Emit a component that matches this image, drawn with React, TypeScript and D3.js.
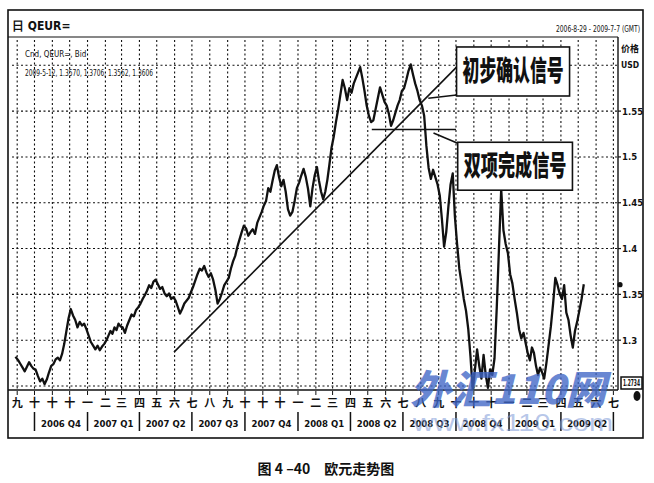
import { useEffect, useRef } from 'react'
import * as d3 from 'd3'

const monthLabels = ['九', '十', '十', '十', '一', '二', '三', '四', '五', '六', '七', '八', '九', '十', '十', '十', '一', '二', '三', '四', '五', '六', '七', '八', '九', '十', '十', '十', '一', '二', '三', '四', '五', '六', '七']
const quarterLabels = ['2006 Q4', '2007 Q1', '2007 Q2', '2007 Q3', '2007 Q4', '2008 Q1', '2008 Q2', '2008 Q3', '2008 Q4', '2009 Q1', '2009 Q2']
const priceTicks = [1.3, 1.35, 1.4, 1.45, 1.5, 1.55]
const gridPrices = [1.25, 1.3, 1.35, 1.4, 1.45, 1.5, 1.55, 1.6]

// first bar of the range
const firstDay = new Date(2006, 7, 29)
const firstClose = 1.282

// 8 closes per month, spread over the month
const closes2006 = [
  [1.278, 1.274, 1.270, 1.266, 1.271, 1.276, 1.272, 1.269], // Sep
  [1.268, 1.261, 1.255, 1.258, 1.252, 1.257, 1.265, 1.272],
  [1.274, 1.279, 1.281, 1.278, 1.285, 1.296, 1.310, 1.324],
  [1.334, 1.327, 1.322, 1.314, 1.320, 1.316, 1.318, 1.312],
]
const closes2007 = [
  [1.305, 1.298, 1.294, 1.290, 1.294, 1.289, 1.293, 1.296],
  [1.300, 1.305, 1.310, 1.307, 1.314, 1.311, 1.318, 1.315],
  [1.314, 1.308, 1.316, 1.322, 1.328, 1.326, 1.333, 1.336],
  [1.340, 1.345, 1.349, 1.354, 1.360, 1.357, 1.364, 1.366],
  [1.361, 1.356, 1.358, 1.351, 1.348, 1.351, 1.345, 1.347],
  [1.343, 1.336, 1.329, 1.334, 1.340, 1.343, 1.346, 1.352],
  [1.358, 1.365, 1.372, 1.378, 1.376, 1.381, 1.374, 1.369],
  [1.373, 1.366, 1.355, 1.340, 1.345, 1.352, 1.360, 1.364],
  [1.368, 1.378, 1.386, 1.392, 1.402, 1.410, 1.418, 1.425],
  [1.422, 1.414, 1.418, 1.421, 1.416, 1.428, 1.434, 1.440],
  [1.447, 1.452, 1.466, 1.462, 1.474, 1.485, 1.491, 1.478],
  [1.468, 1.475, 1.462, 1.443, 1.436, 1.440, 1.452, 1.466],
]
const closes2008 = [
  [1.472, 1.480, 1.487, 1.478, 1.465, 1.446, 1.466, 1.480],
  [1.489, 1.474, 1.462, 1.454, 1.462, 1.475, 1.492, 1.510],
  [1.522, 1.538, 1.552, 1.568, 1.584, 1.575, 1.562, 1.575],
  [1.570, 1.580, 1.586, 1.592, 1.598, 1.586, 1.572, 1.556],
  [1.545, 1.538, 1.540, 1.552, 1.564, 1.576, 1.568, 1.560],
  [1.556, 1.547, 1.534, 1.540, 1.548, 1.556, 1.562, 1.572],
  [1.575, 1.584, 1.594, 1.601, 1.590, 1.580, 1.572, 1.562],
  [1.556, 1.545, 1.512, 1.488, 1.476, 1.486, 1.478, 1.470],
  [1.458, 1.432, 1.402, 1.418, 1.446, 1.470, 1.482, 1.435],
  [1.405, 1.378, 1.362, 1.345, 1.332, 1.312, 1.282, 1.245],
  [1.268, 1.290, 1.272, 1.258, 1.284, 1.262, 1.248, 1.268],
  [1.262, 1.280, 1.335, 1.400, 1.465, 1.420, 1.405, 1.395],
]
const closes2009 = [
  [1.372, 1.362, 1.345, 1.330, 1.312, 1.302, 1.308, 1.296],
  [1.285, 1.278, 1.292, 1.286, 1.272, 1.262, 1.270, 1.265],
  [1.258, 1.275, 1.295, 1.315, 1.340, 1.368, 1.360, 1.350],
  [1.345, 1.360, 1.330, 1.322, 1.305, 1.292, 1.310, 1.320],
  [1.332, 1.345, 1.361],
]
const lastClose = 1.3606
const lowMark = '1.2734'

// annotations, in date / price space
const trendLine: [Date, number][] = [[new Date(2007, 4, 31), 1.287], [new Date(2008, 9, 2), 1.598]]
const neckline: [Date, number][] = [[new Date(2008, 4, 8), 1.53], [new Date(2008, 9, 1), 1.53]]
const box1 = { text: '初步确认信号', left: new Date(2008, 9, 2), right: new Date(2009, 3, 16), top: 1.62, bottom: 1.5665 }
const box2 = { text: '双项完成信号', left: new Date(2008, 9, 4), right: new Date(2009, 3, 21), top: 1.516, bottom: 1.4637 }
const pointer1: [Date, number] = [new Date(2008, 7, 14), 1.564]
const pointer2: [Date, number] = [new Date(2008, 7, 23), 1.526]

const narrow = "'Liberation Sans Narrow', 'DejaVu Sans Condensed', 'Liberation Sans', sans-serif"
const cjk = "'Noto Sans CJK SC', sans-serif"

export default function App() {
  const svgRef = useRef<SVGSVGElement>(null)

  useEffect(() => {
    if (!svgRef.current) return
    const svg = d3.select(svgRef.current)
    svg.selectAll('*').remove()

    const plot = { left: 12, right: 618, top: 37, bottom: 390 }
    const frame = { left: 8, right: 643, top: 10, bottom: 438 }

    const x = d3.scaleTime().domain([new Date(2006, 7, 23), new Date(2009, 6, 9)]).range([plot.left, plot.right])
    const y = d3.scaleLinear().domain([1.25, 1.6]).range([386, 65.3])

    const points: { date: Date; value: number }[] = [{ date: firstDay, value: firstClose }]
    const years: [number, number, number[][]][] = [[2006, 8, closes2006], [2007, 0, closes2007], [2008, 0, closes2008], [2009, 0, closes2009]]
    years.forEach(([year, m0, rows]) => {
      rows.forEach((row, i) => {
        const start = +new Date(year, m0 + i, 1)
        const end = +new Date(year, m0 + i + 1, 1)
        row.forEach((v, k) => points.push({ date: new Date(start + ((k + 0.5) / 8) * (end - start)), value: v }))
      })
    })

    svg.append('rect').attr('width', 654).attr('height', 483).attr('fill', '#fff')

    svg.append('defs').append('clipPath').attr('id', 'plotClip')
      .append('rect')
      .attr('x', plot.left).attr('y', plot.top)
      .attr('width', plot.right - plot.left).attr('height', plot.bottom - plot.top)

    const months = d3.timeMonth.range(new Date(2006, 8, 1), new Date(2009, 6, 2))

    // dotted grid
    const grid = svg.append('g').attr('stroke', '#111').attr('stroke-width', 1.1).attr('stroke-dasharray', '2,2.5')
    gridPrices.forEach((p) => {
      grid.append('line').attr('x1', plot.left).attr('x2', plot.right).attr('y1', y(p)).attr('y2', y(p))
    })
    months.forEach((m) => {
      grid.append('line').attr('x1', x(m)).attr('x2', x(m)).attr('y1', plot.top + 3).attr('y2', plot.bottom)
    })

    // price line
    const line = d3.line<{ date: Date; value: number }>().x((d) => x(d.date)).y((d) => y(d.value))
    svg.append('path')
      .datum(points)
      .attr('clip-path', 'url(#plotClip)')
      .attr('fill', 'none').attr('stroke', '#111').attr('stroke-width', 2.3).attr('stroke-linejoin', 'round')
      .attr('d', line)

    // trend line, neckline and pointers
    const ink = svg.append('g').attr('stroke', '#111').attr('stroke-width', 1.6).attr('fill', 'none')
    ink.append('line')
      .attr('x1', x(trendLine[0][0])).attr('y1', y(trendLine[0][1]))
      .attr('x2', x(trendLine[1][0])).attr('y2', y(trendLine[1][1]))
    ink.append('line')
      .attr('x1', x(neckline[0][0])).attr('y1', y(neckline[0][1]))
      .attr('x2', x(neckline[1][0])).attr('y2', y(neckline[1][1]))
    ink.append('line')
      .attr('x1', x(pointer1[0])).attr('y1', y(pointer1[1]))
      .attr('x2', x(box1.left)).attr('y2', y(box1.bottom) - 1)
    ink.append('line')
      .attr('x1', x(pointer2[0])).attr('y1', y(pointer2[1]))
      .attr('x2', x(box2.left)).attr('y2', y(box2.top) + 1)

    ;[box1, box2].forEach((b) => {
      const bx = x(b.left)
      const bw = x(b.right) - bx
      const by = y(b.top)
      const bh = y(b.bottom) - by
      svg.append('rect')
        .attr('x', bx).attr('y', by).attr('width', bw).attr('height', bh)
        .attr('fill', '#fff').attr('stroke', '#111').attr('stroke-width', 1.6)
      svg.append('text')
        .attr('x', bx + 6).attr('y', by + bh / 2 + 10)
        .attr('font-family', cjk).attr('font-weight', 900).attr('font-size', 28)
        .attr('textLength', bw - 12).attr('lengthAdjust', 'spacingAndGlyphs')
        .attr('fill', '#111')
        .text(b.text)
    })

    // frame
    const frameG = svg.append('g').attr('stroke', '#111').attr('fill', 'none')
    frameG.append('rect')
      .attr('x', frame.left).attr('y', frame.top)
      .attr('width', frame.right - frame.left).attr('height', frame.bottom - frame.top)
      .attr('stroke-width', 1.6)
    frameG.append('line').attr('x1', frame.left).attr('x2', plot.right).attr('y1', plot.top).attr('y2', plot.top).attr('stroke-width', 1.2)
    frameG.append('line').attr('x1', plot.right).attr('x2', plot.right).attr('y1', plot.top).attr('y2', plot.bottom).attr('stroke-width', 1.4)
    frameG.append('line').attr('x1', frame.left).attr('x2', plot.right).attr('y1', plot.bottom).attr('y2', plot.bottom).attr('stroke-width', 1.6)

    // header texts
    svg.append('text')
      .attr('x', 12).attr('y', 30)
      .attr('font-family', narrow).attr('font-weight', 700).attr('font-size', 12).attr('fill', '#111')
      .text('日 QEUR=')
    svg.append('text')
      .attr('x', 556).attr('y', 32)
      .attr('font-family', narrow).attr('font-size', 8.5).attr('fill', '#111')
      .attr('textLength', 84).attr('lengthAdjust', 'spacingAndGlyphs')
      .text('2006-8-29 - 2009-7-7 (GMT)')
    svg.append('text')
      .attr('x', 25).attr('y', 57)
      .attr('font-family', narrow).attr('font-size', 8).attr('fill', '#111')
      .text('Cnd, QEUR=, Bid')
    svg.append('text')
      .attr('x', 25).attr('y', 76)
      .attr('font-family', narrow).attr('font-size', 8).attr('fill', '#111')
      .attr('textLength', 128).attr('lengthAdjust', 'spacingAndGlyphs')
      .text('2009-5-12, 1.3570, 1.3706, 1.3562, 1.3606')

    // right axis
    svg.append('text')
      .attr('x', 621).attr('y', 52)
      .attr('font-family', cjk).attr('font-size', 9).attr('font-weight', 700).attr('fill', '#111')
      .text('价格')
    svg.append('text')
      .attr('x', 621).attr('y', 68)
      .attr('font-family', narrow).attr('font-size', 8.5).attr('font-weight', 700).attr('fill', '#111')
      .text('USD')
    priceTicks.forEach((p) => {
      svg.append('line')
        .attr('x1', plot.right).attr('x2', plot.right + 3).attr('y1', y(p)).attr('y2', y(p))
        .attr('stroke', '#111').attr('stroke-width', 1.2)
      svg.append('text')
        .attr('x', plot.right + 4).attr('y', y(p) + 3.5)
        .attr('font-family', narrow).attr('font-weight', 700).attr('font-size', 9.5).attr('fill', '#111')
        .text(String(p))
    })
    svg.append('circle')
      .attr('cx', plot.right + 2).attr('cy', y(lastClose)).attr('r', 2.6).attr('fill', '#111')
    svg.append('rect')
      .attr('x', plot.right + 3).attr('y', plot.bottom - 13).attr('width', 21).attr('height', 12)
      .attr('fill', '#fff').attr('stroke', '#111').attr('stroke-width', 1.5)
    svg.append('text')
      .attr('x', plot.right + 5).attr('y', plot.bottom - 4)
      .attr('font-family', narrow).attr('font-weight', 700).attr('font-size', 8.5).attr('fill', '#111')
      .attr('textLength', 17).attr('lengthAdjust', 'spacingAndGlyphs')
      .text(lowMark)
    svg.append('ellipse')
      .attr('cx', 637).attr('cy', 396).attr('rx', 3.5).attr('ry', 5).attr('fill', '#111')

    // bottom axis: months
    months.forEach((m, i) => {
      svg.append('line')
        .attr('x1', x(m)).attr('x2', x(m)).attr('y1', plot.bottom + 1).attr('y2', plot.bottom + 5)
        .attr('stroke', '#111').attr('stroke-width', 1)
      svg.append('text')
        .attr('x', x(m)).attr('y', 407).attr('text-anchor', 'middle')
        .attr('font-family', cjk).attr('font-weight', 700).attr('font-size', 11).attr('fill', '#111')
        .text(monthLabels[i])
    })

    // quarters
    const quarterStarts = months.filter((m) => m.getMonth() % 3 === 0)
    quarterStarts.forEach((q) => {
      svg.append('line')
        .attr('x1', x(q)).attr('x2', x(q)).attr('y1', 412).attr('y2', 431)
        .attr('stroke', '#111').attr('stroke-width', 1.5)
    })
    quarterLabels.forEach((label, i) => {
      const cx = (x(quarterStarts[i]) + x(quarterStarts[i + 1])) / 2
      svg.append('text')
        .attr('x', cx).attr('y', 427).attr('text-anchor', 'middle')
        .attr('font-family', narrow).attr('font-weight', 700).attr('font-size', 9.5).attr('fill', '#111')
        .text(label)
    })

    // watermark
    svg.append('text')
      .attr('x', 410).attr('y', 404)
      .attr('font-family', cjk).attr('font-weight', 900).attr('font-style', 'italic').attr('font-size', 40)
      .attr('textLength', 196).attr('lengthAdjust', 'spacingAndGlyphs')
      .attr('fill', '#3f66c6').attr('opacity', 0.78)
      .text('外汇110网')
    svg.append('text')
      .attr('x', 413).attr('y', 431)
      .attr('font-family', "'Liberation Sans', sans-serif").attr('font-size', 24)
      .attr('textLength', 200).attr('lengthAdjust', 'spacingAndGlyphs')
      .attr('fill', '#7f9bd8').attr('opacity', 0.55)
      .text('www.fx110.com')

    // caption
    svg.append('text')
      .attr('x', 326).attr('y', 474).attr('text-anchor', 'middle')
      .attr('font-family', cjk).attr('font-weight', 700).attr('font-size', 14).attr('fill', '#111')
      .attr('xml:space', 'preserve')
      .text('图 4 –40　欧元走势图')
  }, [])

  return <svg ref={svgRef} width={654} height={483} style={{ position: 'absolute', left: 0, top: 0 }} />
}
